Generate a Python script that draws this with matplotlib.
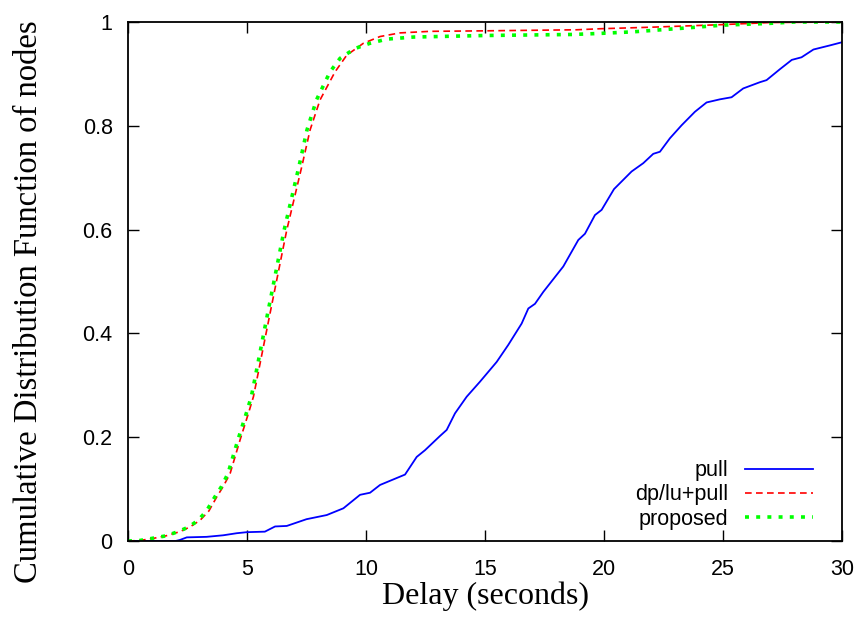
import matplotlib
matplotlib.use("Agg")
import matplotlib.pyplot as plt

# pull
pull_x = [0, 2.0, 2.18, 2.47, 3.3, 4.0, 4.57, 4.99, 5.75, 6.18, 6.67, 7.5, 8.35, 9.05,
          9.75, 10.17, 10.59, 11.64, 12.13, 12.48, 13.1, 13.39, 13.74, 14.23, 14.79,
          15.49, 15.98, 16.54, 16.82, 17.1, 17.45, 18.29, 18.92, 19.2, 19.62, 19.9,
          20.42, 21.16, 21.65, 22.07, 22.35, 22.77, 23.26, 23.82, 24.31, 24.87, 25.36,
          25.85, 26.55, 26.83, 27.39, 27.89, 28.3, 28.8, 29.5, 30]
pull_y = [0, 0, 0.002, 0.007, 0.008, 0.011, 0.015, 0.017, 0.018, 0.028, 0.029, 0.042,
          0.050, 0.063, 0.089, 0.093, 0.108, 0.128, 0.162, 0.175, 0.202, 0.214, 0.246,
          0.278, 0.307, 0.345, 0.378, 0.419, 0.448, 0.457, 0.480, 0.529, 0.58, 0.592,
          0.628, 0.638, 0.678, 0.712, 0.728, 0.746, 0.75, 0.776, 0.801, 0.827, 0.845,
          0.851, 0.855, 0.872, 0.884, 0.888, 0.909, 0.927, 0.932, 0.947, 0.955, 0.961]

# dp/lu+pull
dplu_x = [0, 0.5, 1.06, 1.6, 2.18, 2.6, 3.03, 3.4, 3.73, 4.0, 4.29, 4.71, 5.06, 5.27,
          5.41, 5.97, 6.67, 7.3, 7.65, 8.07, 8.7, 9.19, 9.89, 10.59, 11.43, 12.69, 15,
          18.85, 19.83, 22, 25, 27, 30]
dplu_y = [0, 0.001, 0.005, 0.01, 0.018, 0.027, 0.040, 0.058, 0.085, 0.105, 0.130, 0.195,
          0.246, 0.278, 0.31, 0.439, 0.599, 0.721, 0.792, 0.85, 0.904, 0.936, 0.959,
          0.972, 0.979, 0.982, 0.983, 0.985, 0.987, 0.990, 0.995, 0.999, 1.0]

# proposed
prop_x = [0, 0.5, 1.0, 1.6, 2.1, 2.55, 2.95, 3.3, 3.65, 3.93, 4.2, 4.62, 4.97, 5.18,
          5.32, 5.87, 6.56, 7.18, 7.52, 7.92, 8.49, 8.91, 9.54, 10.17, 10.87, 11.99, 15,
          18.7, 19.83, 21.2, 23.3, 25, 26.8, 28, 30]
prop_y = [0, 0.001, 0.005, 0.01, 0.018, 0.027, 0.040, 0.058, 0.085, 0.105, 0.13, 0.195,
          0.246, 0.278, 0.31, 0.439, 0.599, 0.721, 0.792, 0.85, 0.904, 0.93, 0.949,
          0.959, 0.967, 0.971, 0.974, 0.976, 0.978, 0.981, 0.988, 0.994, 0.997, 1.0, 1.0]

xticks = [0, 5, 10, 15, 20, 25, 30]
yticks = [0, 0.2, 0.4, 0.6, 0.8, 1]
ytick_labels = ["0", "0.2", "0.4", "0.6", "0.8", "1"]

sans = "Liberation Sans"
serif = "Liberation Serif"

fig = plt.figure(figsize=(8.61, 6.23), dpi=100)
ax = fig.add_axes([128/861, 1 - 541/623, 714/861, 519/623])

ax.plot(pull_x, pull_y, color="#0000ff", lw=1.3, label="pull")
ax.plot(dplu_x, dplu_y, color="#ff0000", lw=1.2, dashes=(4, 2.6), label="dp/lu+pull")
ax.plot(prop_x, prop_y, color="#00ff00", lw=2.6, dashes=(1.1, 2.0), label="proposed")

ax.set_xlim(0, 30)
ax.set_ylim(0, 1)
ax.set_xticks(xticks)
ax.set_yticks(yticks)
ax.set_yticklabels(ytick_labels)
ax.tick_params(direction="in", length=8, width=1, top=True, right=True,
               labelsize=15.5)
ax.tick_params(axis="x", pad=13)
ax.tick_params(axis="y", pad=11)
for lab in ax.get_xticklabels() + ax.get_yticklabels():
    lab.set_fontfamily(sans)
for sp in ax.spines.values():
    sp.set_linewidth(1.3)

ax.set_xlabel("Delay (seconds)", fontfamily=serif, fontsize=23, labelpad=1)
ax.set_ylabel("Cumulative Distribution Function of nodes", fontfamily=serif,
              fontsize=23.5)
ax.yaxis.set_label_coords(-0.118, 0.462)

ax.legend(loc="lower right", bbox_to_anchor=(0.96, 0.022), frameon=False,
          markerfirst=False, handlelength=3.2, handletextpad=0.75,
          labelspacing=0.15, borderpad=0, borderaxespad=0,
          prop={"family": sans, "size": 15.5})

fig.savefig("out.png", dpi=100)
